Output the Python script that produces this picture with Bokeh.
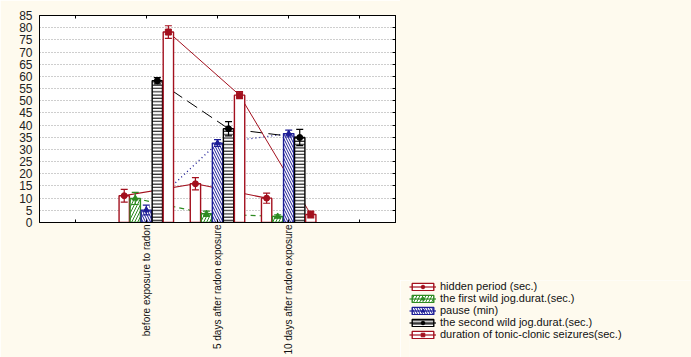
import math
from bokeh.plotting import figure
from bokeh.layouts import row, column
from bokeh.models import (Range1d, LinearAxis, FixedTicker, Whisker, TeeHead,
                          ColumnDataSource, Legend, LegendItem, Spacer)
from bokeh.embed import file_html
from bokeh.resources import INLINE

# ---------------- data ----------------
categories = ["before exposure to radon",
              "5 days after radon exposure",
              "10 days after radon exposure"]
y_ticks = [0, 5, 10, 15, 20, 25, 30, 35, 40, 45, 50, 55, 60, 65, 70, 75, 80, 85]

series_names = ["hidden period (sec.)",
                "the first wild jog.durat.(sec.)",
                "pause (min)",
                "the second wild jog.durat.(sec.)",
                "duration of tonic-clonic seizures(sec.)"]

hidden_period = [11.0, 15.9, 10.0]
hidden_period_err = [2.6, 2.5, 2.1]
first_wild_jog = [9.9, 3.6, 2.5]
first_wild_jog_err = [2.5, 1.1, 0.6]
pause_min = [5.1, 32.6, 36.5]
pause_min_err = [2.0, 1.4, 1.4]
second_wild_jog = [58.2, 38.5, 34.9]
second_wild_jog_err = [1.3, 2.9, 3.3]
tonic_clonic = [78.2, 52.3, 3.3]
tonic_clonic_err = [2.6, 1.4, 1.4]

values = [hidden_period, first_wild_jog, pause_min, second_wild_jog, tonic_clonic]
errors = [hidden_period_err, first_wild_jog_err, pause_min_err,
          second_wild_jog_err, tonic_clonic_err]

# ---------------- styles ----------------
DARKRED = "#A3101E"
GREEN = "#2E8B22"
NAVY = "#1C1C96"
BLACK = "#000000"
CREAM = "#FEFAEE"
styles = [
    dict(color=DARKRED, hatch=None, hscale=6, marker="circle", dash="solid", lw=1.2),
    dict(color=GREEN, hatch="/", hscale=6, marker="triangle", dash="5 4", lw=1.2),
    dict(color=NAVY, hatch="\\", hscale=5, marker="triangle", dash="1 3", lw=1.3),
    dict(color=BLACK, hatch="-", hscale=3.3, marker="circle", dash="12 6", lw=1.0),
    dict(color=DARKRED, hatch=None, hscale=6, marker="square", dash="solid", lw=1.0),
]
offsets = [-0.31, -0.155, 0.0, 0.155, 0.31]
bar_w = 0.145
slot_ticks = [0.5, 1.5, 2.5, 3.5, 4.5]
cat_x = [1.5 + i for i in range(len(categories))]

FONT = "Liberation Sans"

p = figure(width=400, height=357, x_range=Range1d(0, 5), y_range=Range1d(0, 85),
           output_backend="svg", toolbar_location=None,
           min_border_left=39, min_border_right=5, min_border_top=15,
           min_border_bottom=5,
           background_fill_color="white", border_fill_color=CREAM,
           outline_line_color="black", outline_line_width=1)

# axes
p.xaxis.ticker = FixedTicker(ticks=cat_x, minor_ticks=[slot_ticks[0], slot_ticks[-1]])
p.xaxis.major_label_overrides = {cx: c for cx, c in zip(cat_x, categories)}
p.xaxis.major_label_orientation = math.pi / 2
p.xaxis.major_label_text_font = FONT
p.xaxis.major_label_text_font_size = "10px"
p.xaxis.major_label_text_color = "#111111"
p.xaxis.major_label_standoff = 2
p.xaxis.major_tick_in = 3
p.xaxis.major_tick_out = 0
p.xaxis.minor_tick_in = 3
p.xaxis.minor_tick_out = 0
p.xaxis.axis_line_color = "black"

p.yaxis.ticker = FixedTicker(ticks=y_ticks)
p.yaxis.major_label_text_font = FONT
p.yaxis.major_label_text_font_size = "12px"
p.yaxis.major_label_text_color = "#222222"
p.yaxis.major_label_standoff = 7
p.yaxis.major_tick_in = 0
p.yaxis.major_tick_out = 0
p.yaxis.minor_tick_line_color = None
p.yaxis.axis_line_color = "black"

right_axis = LinearAxis(ticker=FixedTicker(ticks=[], minor_ticks=y_ticks),
                        minor_tick_in=3, minor_tick_out=0,
                        major_tick_in=0, major_tick_out=0,
                        axis_line_color="black")
p.add_layout(right_axis, "right")
top_axis = LinearAxis(ticker=FixedTicker(ticks=[], minor_ticks=slot_ticks),
                      minor_tick_in=3, minor_tick_out=0,
                      major_tick_in=0, major_tick_out=0,
                      axis_line_color="black")
p.add_layout(top_axis, "above")

p.xgrid.visible = False
p.ygrid.ticker = FixedTicker(ticks=y_ticks)
p.ygrid.grid_line_color = "#9C9C9C"
p.ygrid.grid_line_dash = "1 2"
p.ygrid.grid_line_width = 1

sources = []
for k, (vals, errs) in enumerate(zip(values, errors)):
    xs = [cx + offsets[k] for cx in cat_x]
    src = ColumnDataSource(dict(x=xs, y=vals,
                                upper=[v + e for v, e in zip(vals, errs)],
                                lower=[v - e for v, e in zip(vals, errs)]))
    sources.append(src)

# connecting lines (behind bars)
for k, src in enumerate(sources):
    st = styles[k]
    p.line("x", "y", source=src, line_color=st["color"], line_dash=st["dash"],
           line_width=st["lw"])


def bar_kw(st):
    kw = dict(fill_color="white", line_color=st["color"], line_width=1.4)
    if st["hatch"]:
        kw.update(hatch_pattern=st["hatch"], hatch_color=st["color"],
                  hatch_scale=st["hscale"], hatch_weight=1.0)
    return kw


for k, src in enumerate(sources):
    p.vbar(x="x", top="y", bottom=0, width=bar_w, source=src, **bar_kw(styles[k]))

for k, src in enumerate(sources):
    st = styles[k]
    w = Whisker(source=src, base="x", upper="upper", lower="lower",
                line_color=st["color"], line_width=1.2, level="overlay",
                upper_head=TeeHead(size=7, line_color=st["color"], line_width=1.2),
                lower_head=TeeHead(size=7, line_color=st["color"], line_width=1.2))
    p.add_layout(w)
    p.scatter("x", "y", source=src, marker=st["marker"], size=6,
              fill_color=st["color"], line_color=st["color"])

# ---------------- legend panel (separate small figure) ----------------
NAN = float("nan")
q = figure(width=291, height=77, x_range=Range1d(0, 1), y_range=Range1d(0, 1),
           output_backend="svg", toolbar_location=None,
           x_axis_type=None, y_axis_type=None,
           min_border_left=9, min_border_right=0, min_border_top=0, min_border_bottom=0,
           background_fill_color=CREAM, border_fill_color=CREAM,
           outline_line_color=None)
legend_items = []
for k in range(len(series_names)):
    st = styles[k]
    dummy = ColumnDataSource(dict(x=[NAN], y=[NAN]))
    br = q.vbar(x="x", top="y", width=0.1, source=dummy, **bar_kw(st))
    ll = q.line("x", "y", source=dummy, line_color=st["color"], line_width=1.2)
    mr = q.scatter("x", "y", source=dummy, marker=st["marker"], size=6,
                   fill_color=st["color"], line_color=st["color"])
    legend_items.append(LegendItem(label=series_names[k], renderers=[br, ll, mr]))

legend = Legend(items=legend_items, location="top_left", padding=0, margin=0,
                border_line_alpha=0, background_fill_alpha=0,
                glyph_width=27, glyph_height=9, label_height=9, spacing=0,
                label_standoff=4, label_text_font=FONT, label_text_font_size="11px",
                label_text_color="#111111")
q.add_layout(legend)

right_col = column(Spacer(width=291, height=280, styles={"background-color": CREAM}), q)
layout = row(p, right_col)
open("out.html", "w").write(file_html(layout, INLINE))
